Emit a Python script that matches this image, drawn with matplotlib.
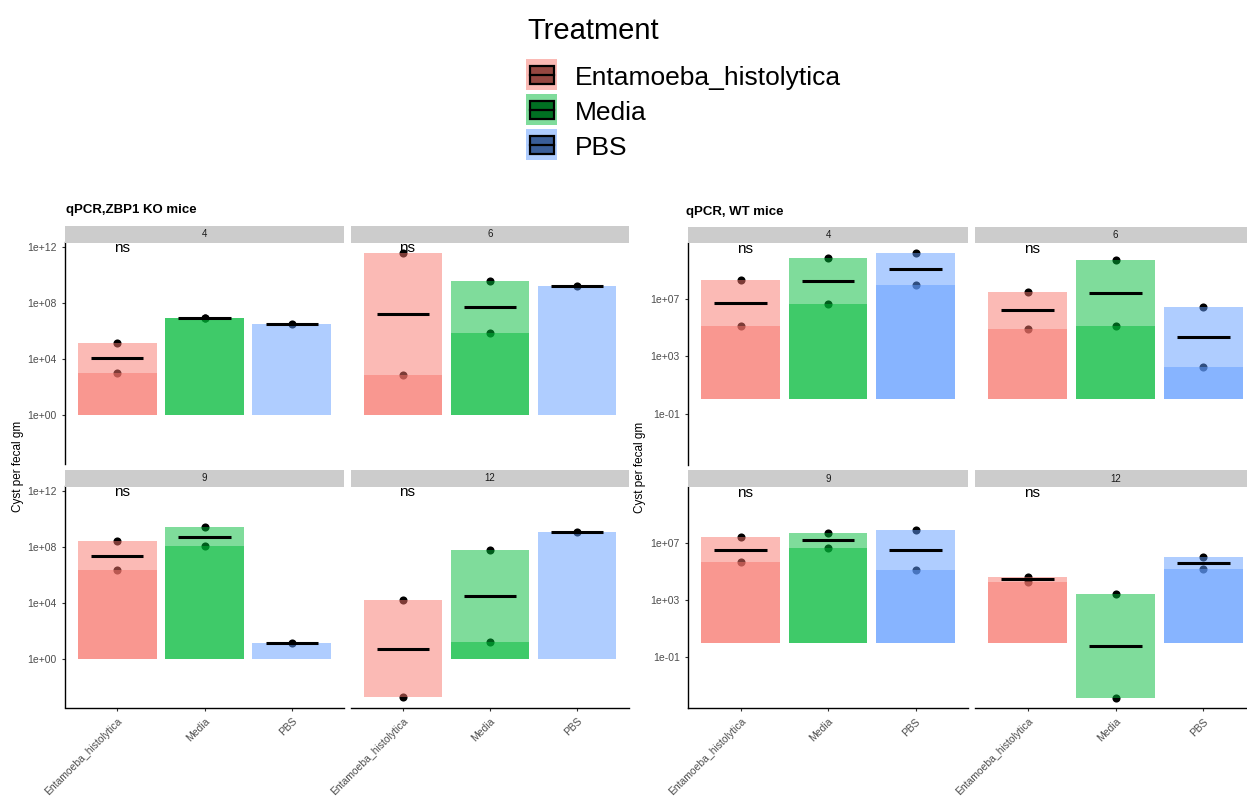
import numpy as np
import matplotlib
matplotlib.use("Agg")
from matplotlib import pyplot as plt
from matplotlib.patches import Rectangle

plt.rcParams['font.family'] = ['Liberation Sans', 'DejaVu Sans']

# ---------------- data (cysts per fecal gm, per mouse) ----------------
days = [4, 6, 9, 12]
treatments = ["Entamoeba_histolytica", "Media", "PBS"]
colors = ["#F8766D", "#00BA38", "#619CFF"]

# ZBP1 KO mice: [Entamoeba, Media, PBS]
ko_day4 = [[1.4e5, 1.0e3], [9.0e6, 8.0e6], [3.2e6]]
ko_day6 = [[4.0e11, 6.9e2], [3.5e9, 6.9e5], [1.55e9]]
ko_day9 = [[2.6e8, 2.3e6], [2.6e9, 1.2e8], [15.5]]
ko_day12 = [[1.6e4, 1.9e-3], [5.8e7, 18.0], [1.1e9]]

# WT mice
wt_day4 = [[2.0e8, 1.26e5], [6.8e9, 4.5e6], [1.6e10, 9.5e7]]
wt_day6 = [[3.2e7, 7.9e4], [4.9e9, 1.26e5], [2.6e6, 1.7e2]]
wt_day9 = [[2.4e7, 4.5e5], [5.0e7, 4.3e6], [8.1e7, 1.2e5]]
wt_day12 = [[4.1e4, 1.8e4], [2.5e3, 1.3e-4], [1.05e6, 1.4e5]]

ko_ticks = [0, 4, 8, 12]
wt_ticks = [-1, 3, 7]

# ---------------- layout helpers (pixels) ----------------
W, H = 1247, 797
fig = plt.figure(figsize=(W / 100, H / 100), dpi=100)


def add_ax(x0, y0, x1, y1):
    return fig.add_axes([x0 / W, 1 - y1 / H, (x1 - x0) / W, (y1 - y0) / H])


panels = [
    dict(title="qPCR,ZBP1 KO mice", data=[ko_day4, ko_day6, ko_day9, ko_day12],
         ticks=ko_ticks, cols=[(65, 344), (351, 629)],
         rows=[(242.5, 463.5), (486.5, 707.5)], tx=66, ty=210, ylab_x=18),
    dict(title="qPCR, WT mice", data=[wt_day4, wt_day6, wt_day9, wt_day12],
         ticks=wt_ticks, cols=[(688, 968), (975, 1256)],
         rows=[(243, 465), (487, 708)], tx=686, ty=212, ylab_x=640),
]

for p in panels:
    alllog = np.log10(np.concatenate([np.concatenate(d) for d in p['data']]))
    lo, hi = alllog.min(), alllog.max()
    pad = 0.05 * (hi - lo)
    ylim = (10 ** (lo - pad), 10 ** (hi + pad))
    ns_y = 10 ** (hi + 0.3)

    for i, vals in enumerate(p['data']):
        r, c = divmod(i, 2)
        x0, x1 = p['cols'][c]
        y0, y1 = p['rows'][r]
        ax = add_ax(x0, y0, x1, y1)

        # strip
        sax = add_ax(x0, y0 - 16.5, x1, y0)
        sax.set_facecolor("#CCCCCC")
        sax.set_xticks([]); sax.set_yticks([])
        for s in sax.spines.values():
            s.set_visible(False)
        sax.text(0.5, 0.5, str(days[i]), ha='center', va='center', fontsize=7, color="#1A1A1A",
                 transform=sax.transAxes)

        ax.set_yscale('log')
        for k, (grp, col) in enumerate(zip(vals, colors)):
            grp = np.array(grp)
            # points under the bars
            ax.scatter([k] * len(grp), grp, s=34, color='black', zorder=1, linewidths=0)
            for v in grp:
                ax.bar(k, v - 1, bottom=1, width=0.9, color=col, alpha=0.5, zorder=2, linewidth=0)
            m = 10 ** np.mean(np.log10(grp))
            ax.plot([k - 0.3, k + 0.3], [m, m], color='black', lw=2.2, zorder=3,
                    solid_capstyle='butt')

        ax.text(0.05, ns_y, "ns", ha='center', va='center', fontsize=11, color='black')

        ax.set_xlim(-0.6, 2.6)
        ax.set_ylim(*ylim)
        ax.minorticks_off()
        ax.set_facecolor('none')
        for s in ['top', 'right']:
            ax.spines[s].set_visible(False)
        ax.spines['left'].set_linewidth(1.0)
        ax.spines['bottom'].set_linewidth(1.0)
        ax.tick_params(length=2.5, width=0.8, color="#333333", labelcolor="#4D4D4D", labelsize=7.5)

        if c == 0:
            ax.set_yticks([10.0 ** t for t in p['ticks']])
            ax.set_yticklabels([f"1e{t:+03d}" for t in p['ticks']])
        else:
            ax.spines['left'].set_visible(False)
            ax.set_yticks([])

        if r == 1:
            ax.set_xticks(range(3))
            ax.set_xticklabels(treatments, rotation=45, ha='right', va='top',
                               rotation_mode='anchor', fontsize=7.5)
        else:
            ax.spines['bottom'].set_visible(False)
            ax.set_xticks([])

    fig.text(p['tx'] / W, 1 - p['ty'] / H, p['title'], fontsize=9.5, fontweight='bold',
             ha='left', va='center')
    yc = (p['rows'][0][0] - 16.5 + p['rows'][1][1]) / 2
    fig.text(p['ylab_x'] / W, 1 - yc / H, "Cyst per fecal gm", rotation=90, fontsize=8.5,
             ha='center', va='center')

# ---------------- legend ----------------
lax = fig.add_axes([0, 0, 1, 1], zorder=-1)
lax.set_xlim(0, W)
lax.set_ylim(H, 0)
lax.axis('off')
lax.text(527, 38.5, "Treatment", fontsize=21, ha='left', va='baseline')
for j, (name, col) in enumerate(zip(treatments, colors)):
    top = 59 + 35 * j
    lax.add_patch(Rectangle((526, top), 31, 31, facecolor=col, alpha=0.5, linewidth=0))
    rgb = np.array(matplotlib.colors.to_rgb(col)) * 0.6
    lax.add_patch(Rectangle((529.5, top + 7), 24, 18, facecolor=rgb, edgecolor='black', linewidth=1.6))
    lax.plot([529.5, 553.5], [top + 16, top + 16], color='black', lw=1.6)
    lax.text(575, top + 26, name, fontsize=19, ha='left', va='baseline')

fig.savefig("out.png", dpi=100)
